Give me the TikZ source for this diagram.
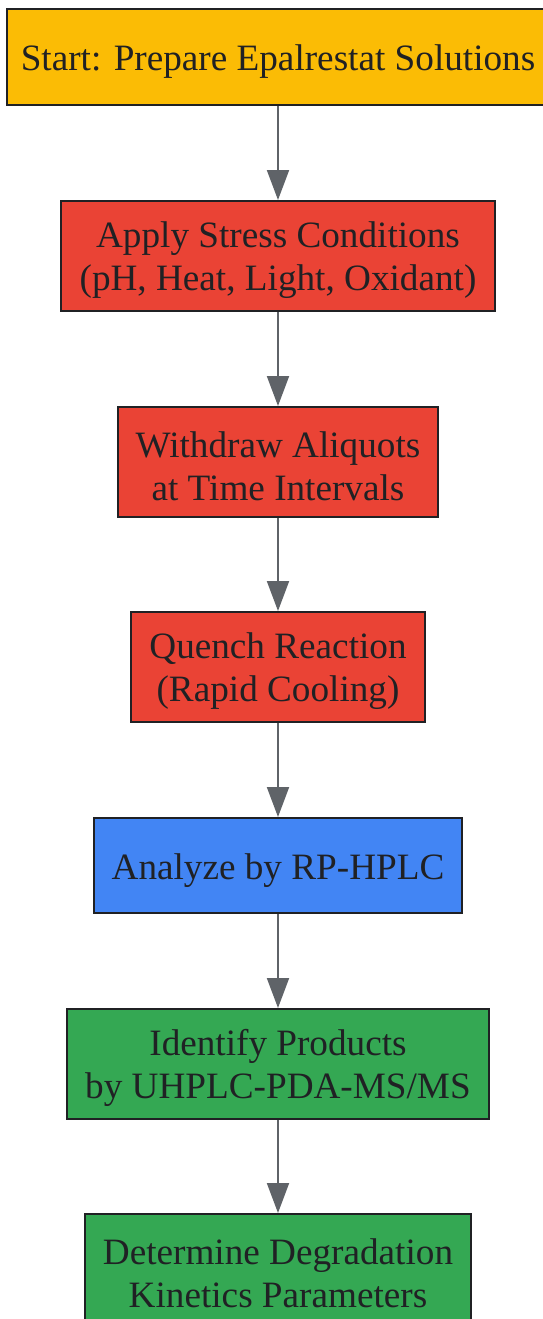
\documentclass[tikz,border=0pt]{standalone}
\usepackage{fontspec}
\setmainfont{Liberation Serif}
\usetikzlibrary{arrows.meta}
\definecolor{gyellow}{HTML}{FBBC05}
\definecolor{gred}{HTML}{EA4335}
\definecolor{gblue}{HTML}{4285F4}
\definecolor{ggreen}{HTML}{34A853}
\definecolor{ink}{HTML}{202124}
\definecolor{edgegray}{HTML}{5F6368}
\tikzset{
  box/.style={draw=ink, line width=2pt, inner sep=0pt},
  txt/.style={text=ink, align=center, inner sep=0pt,
    font=\fontsize{37.2}{43}\selectfont},
  flow/.style={draw=edgegray, line width=2pt, -{Triangle[length=30pt,width=22pt]}}
}
\begin{document}
\begin{tikzpicture}[x=1pt,y=1pt]
\useasboundingbox (0,0) rectangle (543,-1319);
\clip (0,0) rectangle (543,-1319);
\node[box, fill=gyellow, minimum width=542pt, minimum height=96pt] (start) at (278,-57) {};
\node[txt] (startT) at ([yshift=-5pt]start.center) {Start: Prepare Epalrestat Solutions};
\node[box, fill=gred, minimum width=434pt, minimum height=110pt] (stress) at (278,-256) {};
\node[txt] (stressT) at ([yshift=-4pt]stress.center) {Apply Stress Conditions\\(pH, Heat, Light, Oxidant)};
\node[box, fill=gred, minimum width=320pt, minimum height=110pt] (withdraw) at (278,-462) {};
\node[txt] (withdrawT) at ([yshift=-4pt]withdraw.center) {Withdraw Aliquots\\at Time Intervals};
\node[box, fill=gred, minimum width=294pt, minimum height=110pt] (quench) at (278,-667) {};
\node[txt] (quenchT) at ([yshift=-4pt]quench.center) {Quench Reaction\\(Rapid Cooling)};
\node[box, fill=gblue, minimum width=368pt, minimum height=95pt] (hplc) at (278,-865.5) {};
\node[txt] (hplcT) at ([yshift=-5pt]hplc.center) {Analyze by RP-HPLC};
\node[box, fill=ggreen, minimum width=422pt, minimum height=110pt] (ident) at (278,-1064) {};
\node[txt] (identT) at ([yshift=-4pt]ident.center) {Identify Products\\by UHPLC-PDA-MS/MS};
\node[box, fill=ggreen, minimum width=386pt, minimum height=110pt] (kin) at (278,-1269) {};
\node[txt] (kinT) at ([yshift=-4pt]kin.center) {Determine Degradation\\Kinetics Parameters};
\draw[flow] (start) -- (stress);
\draw[flow] (stress) -- (withdraw);
\draw[flow] (withdraw) -- (quench);
\draw[flow] (quench) -- (hplc);
\draw[flow] (hplc) -- (ident);
\draw[flow] (ident) -- (kin);
\end{tikzpicture}
\end{document}
